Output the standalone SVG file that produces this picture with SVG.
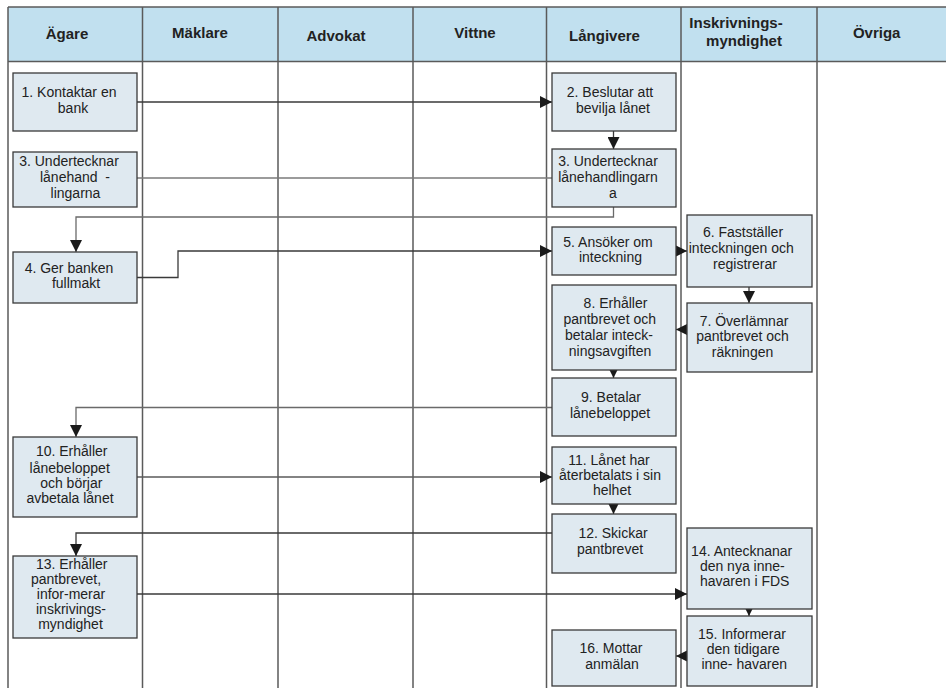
<svg xmlns="http://www.w3.org/2000/svg" width="946" height="689" viewBox="0 0 946 689">
<style>
.lane{stroke:#5a5a5a;stroke-width:1.5;fill:none}
.hdr{fill:#c1e0ef}
.ht{font-family:"Liberation Sans",Arial,sans-serif;font-weight:bold;font-size:15px;fill:#222;text-anchor:middle}
.box{fill:#dfe9f0;stroke:#3a3a3a;stroke-width:1.3}
.t{font-family:"Liberation Sans",Arial,sans-serif;font-size:14px;fill:#222;text-anchor:middle}
.c{stroke:#3a3a3a;stroke-width:1.3;fill:none;marker-end:url(#ah)}
.cg{stroke:#7a7a7a;stroke-width:1.3;fill:none}
</style>
<defs>
<marker id="ah" markerUnits="userSpaceOnUse" markerWidth="12" markerHeight="12" refX="12" refY="6" orient="auto">
<path d="M0,0 L12,6 L0,12 z" fill="#1a1a1a"/>
</marker>
</defs>
<rect width="946" height="689" fill="#ffffff"/>
<g id="lanes">
<rect class="hdr" x="8" y="7" width="938" height="54.5"/>
<line class="lane" x1="8" y1="7" x2="946" y2="7"/>
<line class="lane" x1="8" y1="61.5" x2="946" y2="61.5"/>
<line class="lane" x1="8" y1="7" x2="8" y2="688"/>
<line class="lane" x1="142.5" y1="7" x2="142.5" y2="688"/>
<line class="lane" x1="278" y1="7" x2="278" y2="688"/>
<line class="lane" x1="413" y1="7" x2="413" y2="688"/>
<line class="lane" x1="546.5" y1="7" x2="546.5" y2="688"/>
<line class="lane" x1="681" y1="7" x2="681" y2="688"/>
<line class="lane" x1="817" y1="7" x2="817" y2="688"/>
<text class="ht" x="67" y="38.5">Ägare</text>
<text class="ht" x="200" y="37.7">Mäklare</text>
<text class="ht" x="336" y="40.5">Advokat</text>
<text class="ht" x="475" y="37.7">Vittne</text>
<text class="ht" x="604.5" y="40.7">Långivere</text>
<text class="ht" x="736" y="28.3">Inskrivnings-</text>
<text class="ht" x="744" y="46">myndighet</text>
<text class="ht" x="876.7" y="37.7">Övriga</text>
</g>
<g id="connectors">
<path class="c" d="M137,102 H552"/>
<path class="cg" d="M137,178 H552"/>
<path class="c" d="M613.5,131 V149"/>
<path class="c" style="stroke:#6a6a6a" d="M613.5,207 V217 H76 V252"/>
<path class="c" d="M137,277.5 H178 V251 H552"/>
<path class="c" d="M676,251 H687"/>
<path class="c" d="M749,287 V303"/>
<path class="c" d="M687,329.5 H676"/>
<path class="c" d="M613.5,370 V378"/>
<path class="c" style="stroke:#6a6a6a" d="M552,407.5 H76 V437"/>
<path class="c" style="stroke:#5a5a5a" d="M137,477 H552"/>
<path class="c" d="M613.5,504 V514"/>
<path class="c" d="M552,533 H76 V556"/>
<path class="c" d="M137,594 H687"/>
<path class="c" d="M749,609 V616"/>
<path class="c" d="M687,656 H676"/>
</g>
<g id="n1"><rect class="box" x="13" y="73" width="124" height="58"/>
<text class="t" x="69" y="97">1. Kontaktar en</text><text class="t" x="73" y="113">bank</text></g>
<g id="n3a"><rect class="box" x="13" y="152" width="124" height="55"/>
<text class="t" x="69" y="166">3. Undertecknar</text><text class="t" x="75" y="181.7" xml:space="preserve">lånehand  -</text><text class="t" x="75.5" y="197.7">lingarna</text></g>
<g id="n4"><rect class="box" x="13" y="252" width="124" height="51"/>
<text class="t" x="69" y="273">4. Ger banken</text><text class="t" x="76" y="288">fullmakt</text></g>
<g id="n10"><rect class="box" x="13" y="437" width="124" height="80"/>
<text class="t" x="71.7" y="456">10. Erhåller</text><text class="t" x="69.7" y="472.7">lånebeloppet</text><text class="t" x="71.3" y="488.3">och börjar</text><text class="t" x="70" y="503.3">avbetala lånet</text></g>
<g id="n13"><rect class="box" x="13" y="556" width="124" height="82"/>
<text class="t" x="71.7" y="568.8">13. Erhåller</text><text class="t" x="66" y="583.8">pantbrevet,</text><text class="t" x="71" y="598.8">infor-merar</text><text class="t" x="71" y="614">inskrivings-</text><text class="t" x="70.5" y="629.3">myndighet</text></g>
<g id="n2"><rect class="box" x="552" y="73" width="124" height="58"/>
<text class="t" x="610" y="97">2. Beslutar att</text><text class="t" x="613" y="113">bevilja lånet</text></g>
<g id="n3b"><rect class="box" x="552" y="149" width="124" height="58"/>
<text class="t" x="608" y="166">3. Undertecknar</text><text class="t" x="608" y="181.7">lånehandlingarn</text><text class="t" x="613" y="197.7">a</text></g>
<g id="n5"><rect class="box" x="552" y="227" width="124" height="48"/>
<text class="t" x="608" y="246.7">5. Ansöker om</text><text class="t" x="610.5" y="261.7">inteckning</text></g>
<g id="n8"><rect class="box" x="552" y="285" width="124" height="85"/>
<text class="t" x="615.5" y="308.3">8. Erhåller</text><text class="t" x="609.7" y="324.3">pantbrevet och</text><text class="t" x="609" y="340">betalar inteck-</text><text class="t" x="610" y="355.5">ningsavgiften</text></g>
<g id="n9"><rect class="box" x="552" y="378" width="124" height="58"/>
<text class="t" x="611" y="401.7">9. Betalar</text><text class="t" x="610" y="418.3">lånebeloppet</text></g>
<g id="n11"><rect class="box" x="552" y="447" width="124" height="57"/>
<text class="t" x="609" y="465">11. Lånet har</text><text class="t" x="610" y="480">återbetalats i sin</text><text class="t" x="612" y="495">helhet</text></g>
<g id="n12"><rect class="box" x="552" y="514" width="124" height="59"/>
<text class="t" x="613" y="538.3">12. Skickar</text><text class="t" x="610" y="554">pantbrevet</text></g>
<g id="n16"><rect class="box" x="552" y="630" width="124" height="56"/>
<text class="t" x="611" y="653.3">16. Mottar</text><text class="t" x="612" y="669.3">anmälan</text></g>
<g id="n6"><rect class="box" x="687" y="215" width="125" height="72"/>
<text class="t" x="743" y="236.7">6. Fastställer</text><text class="t" x="741.3" y="253">inteckningen och</text><text class="t" x="745" y="268.5">registrerar</text></g>
<g id="n7"><rect class="box" x="687" y="303" width="125" height="69"/>
<text class="t" x="744" y="326">7. Överlämnar</text><text class="t" x="742.5" y="341.2">pantbrevet och</text><text class="t" x="742.5" y="356.5">räkningen</text></g>
<g id="n14"><rect class="box" x="687" y="528" width="125" height="81"/>
<text class="t" x="741.7" y="556">14. Antecknanar</text><text class="t" x="742.3" y="571">den nya inne-</text><text class="t" x="744.7" y="586">havaren i FDS</text></g>
<g id="n15"><rect class="box" x="687" y="616" width="125" height="70"/>
<text class="t" x="742" y="639.3">15. Informerar</text><text class="t" x="743.3" y="654.3">den tidigare</text><text class="t" x="744.2" y="669.3">inne- havaren</text></g>
</svg>
